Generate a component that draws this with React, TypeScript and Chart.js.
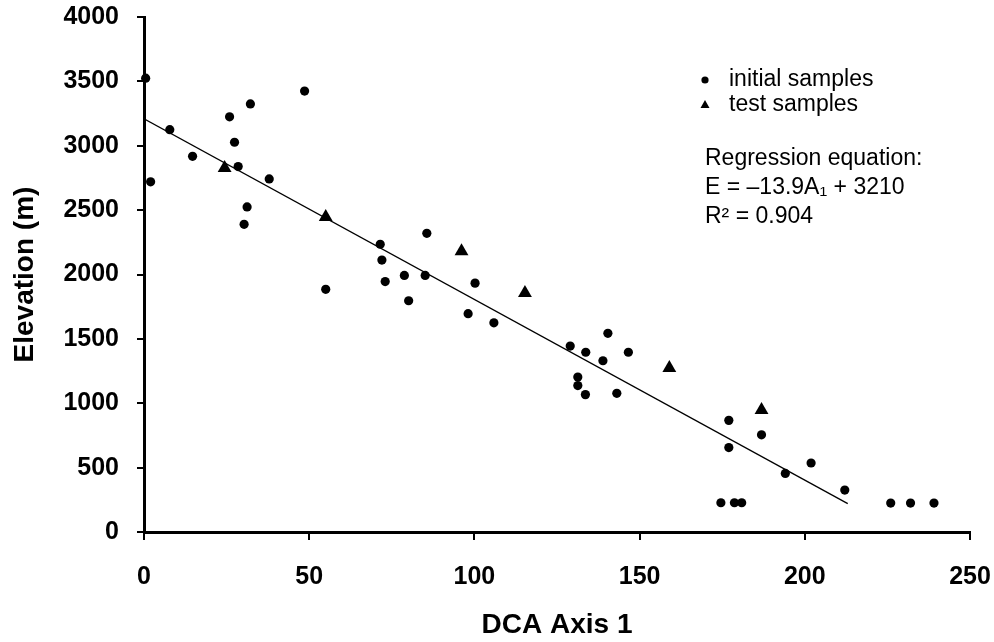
import React, { useEffect, useRef } from 'react';
import { Chart, registerables } from 'chart.js';

Chart.register(...registerables);

// Initial samples (circles)
const initialX = [0.5, 2, 7.8, 14.7, 25.9, 32.2, 27.4, 28.5, 37.9, 31.2, 30.3, 48.6,
  85.6, 71.5, 72, 78.8, 85.1, 73, 80.1, 100.2, 98.1, 105.9, 55,
  140.4, 129, 133.7, 146.6, 138.9, 131.3, 131.3, 133.6, 143.1,
  177, 186.9, 177, 174.6, 178.7, 180.9, 194.1, 201.9, 212.1, 226, 232, 239.1];
const initialY = [3525, 2720, 3125, 2918, 3225, 3325, 3027, 2838, 2742, 2525, 2390, 3425,
  2320, 2235, 2112, 1993, 1993, 1945, 1796, 1933, 1696, 1625, 1885,
  1543, 1444, 1396, 1396, 1330, 1204, 1137, 1067, 1077,
  867, 755, 656, 227, 227, 227, 455, 536, 326, 225, 225, 225];

// Test samples (triangles)
const testX = [24.4, 55, 96.1, 115.3, 159, 186.9];
const testY = [2827, 2446, 2180, 1857, 1274, 948];

// Regression line endpoints
const lineX = [0, 213];
const lineY = [3210, 220];

const legendLabels = ['initial samples', 'test samples'];
const equationLines = ['Regression equation:', 'E = \u201313.9A\u2081 + 3210', 'R\u00B2 = 0.904'];

const xTitle = 'DCA Axis 1';
const yTitle = 'Elevation (m)';

const FONT = '"Liberation Sans", Arial, Helvetica, sans-serif';

const annotPlugin = {
  id: 'annot',
  afterDraw(chart: any) {
    const ctx = chart.ctx;
    ctx.save();
    ctx.fillStyle = '#000';
    ctx.font = `23px ${FONT}`;
    ctx.textBaseline = 'middle';
    ctx.textAlign = 'left';
    // legend symbols
    ctx.beginPath();
    ctx.arc(705, 80, 3.6, 0, Math.PI * 2);
    ctx.fill();
    ctx.fillText(legendLabels[0], 729, 80);
    ctx.beginPath();
    ctx.moveTo(705, 100);
    ctx.lineTo(709.5, 108);
    ctx.lineTo(700.5, 108);
    ctx.closePath();
    ctx.fill();
    ctx.fillText(legendLabels[1], 729, 105);
    // equation
    ctx.fillText(equationLines[0], 705, 159);
    ctx.fillText(equationLines[1], 705, 188);
    ctx.fillText(equationLines[2], 705, 217);
    ctx.restore();
  },
};

export default function App() {
  const ref = useRef<HTMLCanvasElement>(null);
  useEffect(() => {
    if (!ref.current) return;
    const chart = new Chart(ref.current, {
      type: 'scatter',
      data: {
        datasets: [
          {
            label: legendLabels[0],
            data: initialX.map((x, i) => ({ x, y: initialY[i] })),
            pointStyle: 'circle',
            pointRadius: 4.6,
            backgroundColor: '#000',
            borderWidth: 0,
            clip: false,
          } as any,
          {
            label: legendLabels[1],
            data: testX.map((x, i) => ({ x, y: testY[i] })),
            pointStyle: 'triangle',
            pointRadius: 8,
            backgroundColor: '#000',
            borderWidth: 0,
            clip: false,
          } as any,
          {
            type: 'line',
            label: 'regression',
            data: lineX.map((x, i) => ({ x, y: lineY[i] })),
            showLine: true,
            pointRadius: 0,
            borderColor: '#000',
            borderWidth: 1.3,
            fill: false,
          } as any,
        ],
      },
      options: {
        responsive: false,
        animation: false,
        events: [],
        layout: { padding: { top: 17, right: 24, left: 0, bottom: 0 } },
        plugins: { legend: { display: false }, tooltip: { enabled: false } },
        scales: {
          x: {
            type: 'linear',
            min: 0,
            max: 250,
            afterFit: (s: any) => { s.height = 110; s.paddingLeft = 0; s.paddingRight = 0; },
            ticks: {
              stepSize: 50,
              color: '#000',
              padding: 22,
              maxRotation: 0,
              autoSkip: false,
              font: { family: FONT, size: 25, weight: 'bold' },
              callback: (v: any) => String(v),
            },
            grid: { drawOnChartArea: false, drawTicks: true, tickLength: 8, color: '#000', lineWidth: 2 },
            border: { color: '#000', width: 3 },
            title: {
              display: true,
              text: xTitle,
              color: '#000',
              font: { family: FONT, size: 28, weight: 'bold' },
              padding: { top: 0, bottom: 0 },
            },
          },
          y: {
            type: 'linear',
            min: 0,
            max: 4000,
            afterFit: (s: any) => { s.width = 144; s.paddingTop = 0; s.paddingBottom = 0; },
            ticks: {
              stepSize: 500,
              color: '#000',
              padding: 18,
              autoSkip: false,
              font: { family: FONT, size: 25, weight: 'bold' },
              callback: (v: any) => String(v),
            },
            grid: { drawOnChartArea: false, drawTicks: true, tickLength: 7, color: '#000', lineWidth: 2 },
            border: { color: '#000', width: 3 },
            title: {
              display: true,
              text: yTitle,
              color: '#000',
              font: { family: FONT, size: 28, weight: 'bold' },
              padding: { top: 8, bottom: 0 },
            },
          },
        },
      },
      plugins: [annotPlugin],
    });
    return () => chart.destroy();
  }, []);
  return (
    <div style={{ position: 'absolute', left: 0, top: 0, width: 994, height: 642, background: '#fff' }}>
      <canvas ref={ref} width={994} height={642} style={{ display: 'block' }} />
    </div>
  );
}
